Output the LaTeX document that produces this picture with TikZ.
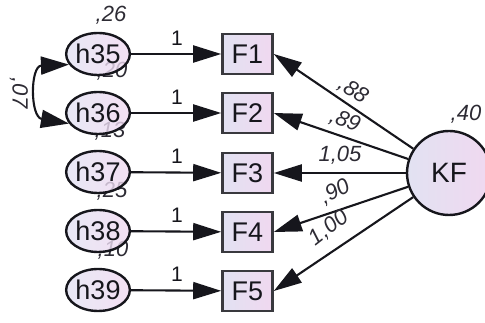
\documentclass[tikz,border=0pt]{standalone}
\usepackage{fontspec}
\setmainfont{Liberation Sans}
\usetikzlibrary{arrows.meta,shapes.geometric}
\definecolor{fillL}{RGB}{226,226,242}
\definecolor{fillR}{RGB}{240,216,240}
\definecolor{ink}{RGB}{22,22,28}
\definecolor{est}{RGB}{45,43,52}

\begin{document}
\begin{tikzpicture}[x=1pt,y=-1pt,
  latent/.style={ellipse, draw=ink, line width=2.4pt, minimum width=62pt,
    minimum height=42pt, inner sep=0pt, left color=fillL, right color=fillR,
    text=ink, font=\fontsize{27}{27}\selectfont},
  indicator/.style={rectangle, draw=ink!85, line width=2.6pt, minimum width=50pt,
    minimum height=40pt, inner sep=0pt, left color=fillL, right color=fillR,
    text=ink, font=\fontsize{27}{27}\selectfont},
  factor/.style={circle, draw=ink, line width=2.4pt, minimum size=84pt,
    inner sep=0pt, left color=fillL, right color=fillR,
    text=ink, font=\fontsize{28}{28}\selectfont},
  path arrow/.style={draw=ink, line width=2.1pt,
    -{Triangle[length=28pt,width=17pt]}},
  cov arrow/.style={draw=ink, line width=2.1pt,
    {Triangle[length=28pt,width=18pt]}-{Triangle[length=28pt,width=18pt]}},
  estimate/.style={text=est, inner sep=0pt, font=\fontsize{22}{22}\selectfont\itshape},
  weight/.style={text=ink, inner sep=0pt, font=\fontsize{21}{21}\selectfont},
]
\clip (0,0) rectangle (485,323);

% variance estimates of the error terms (set behind the ellipses)
\node[estimate] (v35) at (111,15) {,26};
\node[estimate] (v36) at (112,71) {,20};
\node[estimate] (v37) at (110,131) {,13};
\node[estimate] (v38) at (112,191) {,25};
\node[estimate] (v39) at (113,250) {,10};

% error terms
\node[latent, fill opacity=0.8, text opacity=1] (h35) at (98,54)  {h35};
\node[latent, fill opacity=0.8, text opacity=1] (h36) at (98,113) {h36};
\node[latent, fill opacity=0.8, text opacity=1] (h37) at (98,172) {h37};
\node[latent, fill opacity=0.8, text opacity=1] (h38) at (98,231) {h38};
\node[latent, fill opacity=0.8, text opacity=1] (h39) at (98,290) {h39};

% observed indicators
\node[indicator] (F1) at (247.5,54)  {F1};
\node[indicator] (F2) at (247.5,113) {F2};
\node[indicator] (F3) at (247.5,173) {F3};
\node[indicator] (F4) at (247.5,232) {F4};
\node[indicator] (F5) at (247.5,291) {F5};

% latent factor
\node[factor] (KF) at (449,173) {KF};
\node[estimate] (vKF) at (466,114) {,40};

% fixed paths from the error terms
\foreach \i/\f in {35/1,36/2,37/3,38/4,39/5}
  \draw[path arrow] (h\i) -- (F\f);
\node[weight] (w1) at (177,38)  {1};
\node[weight] (w2) at (177,97)  {1};
\node[weight] (w3) at (177,156) {1};
\node[weight] (w4) at (177,215) {1};
\node[weight] (w5) at (177,274) {1};

% loadings of the factor
\foreach \f in {1,...,5}
  \draw[path arrow] (KF) -- (F\f.east);
\node[estimate, rotate=-33] (l1) at (353,91)  {,88};
\node[estimate, rotate=-22] (l2) at (345,121) {,89};
\node[estimate]             (l3) at (340,155) {1,05};
\node[estimate, rotate=28]  (l4) at (335,192) {,90};
\node[estimate, rotate=38]  (l5) at (329,228) {1,00};

% covariance between h35 and h36
\draw[cov arrow] (h35.200) .. controls (30,66) and (30,117) .. (h36.200);
\node[estimate, rotate=-90] (c1) at (19,93) {,07};
\end{tikzpicture}
\end{document}
